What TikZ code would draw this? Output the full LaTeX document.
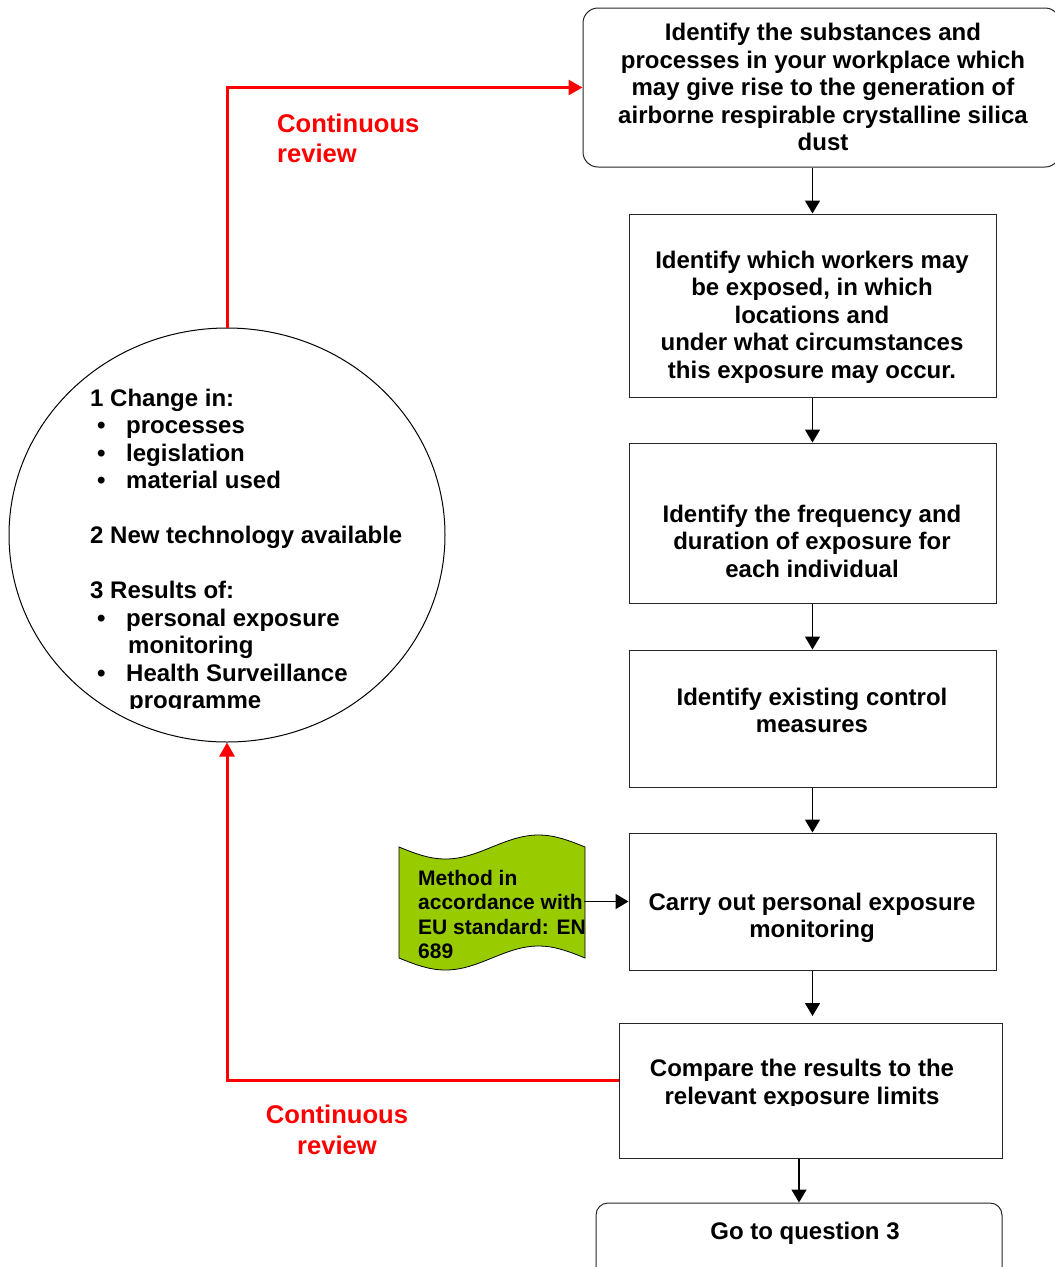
\documentclass[tikz,border=0pt]{standalone}
\usepackage{fontspec}
\setmainfont{Liberation Sans}
\usetikzlibrary{arrows.meta,shapes.geometric}
\definecolor{docgreen}{HTML}{99CC00}
\newcommand\bitem[1]{\makebox[36pt][l]{\hspace{7pt}•}#1}
\begin{document}
\begin{tikzpicture}[x=1pt,y=-1pt,
  box/.style={draw=black!85, line width=1pt, fill=white, inner sep=0pt},
  rbox/.style={box, rounded corners=15pt},
  txt/.style={font=\fontsize{24}{27.5}\selectfont\bfseries, align=center, inner sep=0pt},
  gtxt/.style={font=\fontsize{21}{24.5}\selectfont\bfseries, align=left, inner sep=0pt},
  rtxt/.style={font=\fontsize{25.6}{30.5}\selectfont\bfseries, text=red, inner sep=0pt},
  arr/.style={line width=1.5pt, -{Triangle[length=13pt,width=15pt]}},
  rarr/.style={draw=red, line width=3pt, -{Triangle[length=14pt,width=15pt]}},
]
\useasboundingbox (0,0) rectangle (1055,1267);
\clip (0,0) rectangle (1055,1267);

% boxes
\node[rbox, minimum width=477, minimum height=159] (b1) at (821.5,87.5) {};
\node[box, minimum width=367, minimum height=183] (b2) at (812.5,305.5) {};
\node[box, minimum width=367, minimum height=160] (b3) at (812.5,523) {};
\node[box, minimum width=367, minimum height=137] (b4) at (812.5,718.5) {};
\node[box, minimum width=367, minimum height=137] (b5) at (812.5,901.5) {};
\node[box, minimum width=383, minimum height=135] (b6) at (810.5,1090.5) {};
\node[box, rounded corners=12pt, minimum width=406, minimum height=87] (b7) at (799,1246.5) {};

% box texts
\node[txt] (t1) at (823,87) {Identify the substances and\\processes in your workplace which\\may give rise to the generation of\\airborne respirable crystalline silica\\dust};
\node[txt] (t2) at (812,317) {Identify which workers may\\be exposed, in which\\locations and\\under what circumstances\\this exposure may occur.};
\node[txt] (t3) at (812,541) {Identify the frequency and\\duration of exposure for\\each individual};
\node[txt] (t4) at (812,710.5) {Identify existing control\\measures};
\node[txt] (t5) at (812,918) {Carry out personal exposure\\monitoring};
\begin{scope}
\clip (0,0) rectangle (1055,1105);
\node[txt] (t6) at (802,1084.5) {Compare the results to the\\relevant exposure limits};
\end{scope}
\node[txt] (t7) at (805,1233.5) {Go to question 3};

% circle
\node[ellipse, draw=black, line width=1pt, fill=white, minimum width=436, minimum height=414, inner sep=0pt] (circ) at (227,535) {};
\begin{scope}
\clip (0,0) rectangle (1055,708);
\node[txt, align=left, anchor=west] (ct) at (90,551.5) {1 Change in:\\
\bitem{processes}\\
\bitem{legislation}\\
\bitem{material used}\\[27.5pt]
2 New technology available\\[27.5pt]
3 Results of:\\
\bitem{personal exposure}\\
\hspace*{38pt}monitoring\\
\bitem{Health Surveillance}\\
\hspace*{39pt}programme};
\end{scope}

% green document shape
\path[draw=black, line width=0.8pt, fill=docgreen]
  (399,847) sin (445.5,859) cos (492,847) sin (538.5,835) cos (585,847)
  -- (585,958) sin (538.5,946) cos (492,958) sin (445.5,970) cos (399,958) -- cycle;
\node[gtxt, anchor=west] (doct) at (418,914.5) {Method in\\accordance with\\EU standard: EN\\689};
\coordinate (docR) at (584,901.5);

% black arrows
\draw[arr] (b2.north |- b1.south) -- (b2.north);
\draw[arr] (b2.south) -- (b3.north);
\draw[arr] (b3.south) -- (b4.north);
\draw[arr] (b4.south) -- (b5.north);
\coordinate (b6in) at (812.5,1016);
\draw[arr] (b5.south) -- (b6in);
\draw[arr] (b7.north |- b6.south) -- (b7.north);
\draw[arr] (docR) -- (b5.west);

% red loop
\draw[rarr] (circ.north) |- (b1.west);
\draw[rarr] ([yshift=10.5pt]b6.west) -| (circ.south);
\node[rtxt, anchor=west, align=left] (rl1) at (277,138.5) {Continuous\\review};
\node[rtxt, align=center] (rl2) at (337,1130) {Continuous\\review};
\end{tikzpicture}
\end{document}
